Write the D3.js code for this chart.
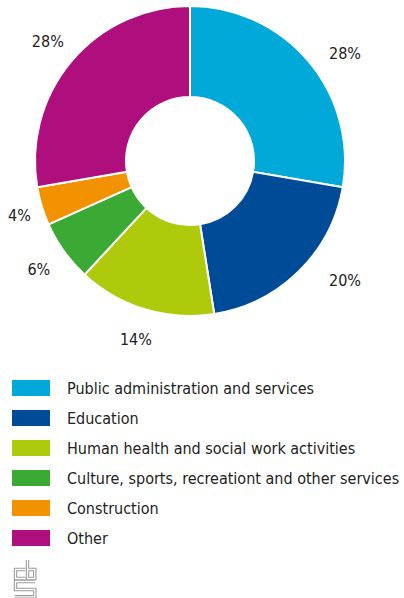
<!DOCTYPE html>
<html>
<head>
<meta charset="utf-8">
<script src="https://cdn.jsdelivr.net/npm/d3@7"></script>
<style>
  html, body { margin: 0; padding: 0; background: #fff; }
  svg { display: block; }
  text { font-family: "Liberation Sans Narrow", "DejaVu Sans Condensed", "Noto Sans", sans-serif; fill: #222; }
</style>
</head>
<body>
<svg id="chart" width="404" height="598"></svg>
<script>
const categories = [
  "Public administration and services",
  "Education",
  "Human health and social work activities",
  "Culture, sports, recreationt and other services",
  "Construction",
  "Other"
];
const values = [27.7, 19.8, 14.4, 6.4, 4.0, 27.7];
const colors = ["#00A9D7", "#004B98", "#AFCA0B", "#3BAA35", "#F39200", "#AF0E7D"];

const W = 404, H = 598;
const cx = 190, cy = 161, outerR = 155, innerR = 64;
const svg = d3.select("#chart");

const data = categories.map((c, i) => ({ name: c, value: values[i], color: colors[i] }));

const pie = d3.pie().value(d => d.value).sort(null).startAngle(0).endAngle(2 * Math.PI);
const arcs = pie(data);
const arc = d3.arc().innerRadius(innerR).outerRadius(outerR);

const g = svg.append("g").attr("transform", `translate(${cx},${cy})`);
g.selectAll("path.slice")
  .data(arcs)
  .join("path")
  .attr("class", "slice")
  .attr("d", arc)
  .attr("fill", d => d.data.color)
  .attr("stroke", "#fff")
  .attr("stroke-width", 2)
  .attr("stroke-linejoin", "round");

// percentage labels
const labelR = 186;
const fmt = v => Math.round(v) + "%";
g.selectAll("text.pct")
  .data(arcs)
  .join("text")
  .attr("class", "pct")
  .attr("font-size", 16)
  .attr("dy", "0.36em")
  .attr("text-anchor", "middle")
  .text(d => fmt(d.data.value))
  .each(function(d) {
    const a = (d.startAngle + d.endAngle) / 2;
    let x = labelR * Math.sin(a), y = -labelR * Math.cos(a);
    const t = d3.select(this);
    const w = this.getComputedTextLength();
    if (a < Math.PI) {
      // right side: aligned column just inside the outer edge
      t.attr("x", outerR - 16 + w / 2).attr("y", y * 0.9);
    } else {
      // keep label inside the page
      const minX = 8 - cx + w / 2;
      t.attr("x", Math.max(x, minX)).attr("y", y);
    }
  });

// legend
const legendTop = 380, rowH = 30;
const legend = svg.append("g");
const rows = legend.selectAll("g.row")
  .data(data)
  .join("g")
  .attr("class", "row")
  .attr("transform", (d, i) => `translate(12,${legendTop + i * rowH})`);
rows.append("rect")
  .attr("width", 38).attr("height", 16)
  .attr("fill", d => d.color);
rows.append("text")
  .attr("x", 55).attr("y", 13.5)
  .attr("font-size", 16)
  .text(d => d.name)
  .each(function() {
    // keep the longest entry inside the page
    const maxW = W - 3 - 67;
    const w = this.getComputedTextLength();
    if (w > maxW) d3.select(this).attr("textLength", maxW).attr("lengthAdjust", "spacingAndGlyphs");
  });

// CBS logo (approximation, outlined strokes)
const logo = svg.append("g").attr("fill", "none").attr("stroke-linejoin", "miter");
const logoPaths = [
  "M25.3,569.5 H15.5 V578.5 H25.3",
  "M27.5,560 V578.5 H34.8 V569.5 H27.5",
  "M35,581.5 H15.5 V589.5 H34.8 V596.8 H14.8"
];
logoPaths.forEach(p => {
  logo.append("path").attr("d", p).attr("stroke", "#9a9a9a").attr("stroke-width", 3.4);
});
logoPaths.forEach(p => {
  logo.append("path").attr("d", p).attr("stroke", "#fff").attr("stroke-width", 1.3);
});
</script>
</body>
</html>
